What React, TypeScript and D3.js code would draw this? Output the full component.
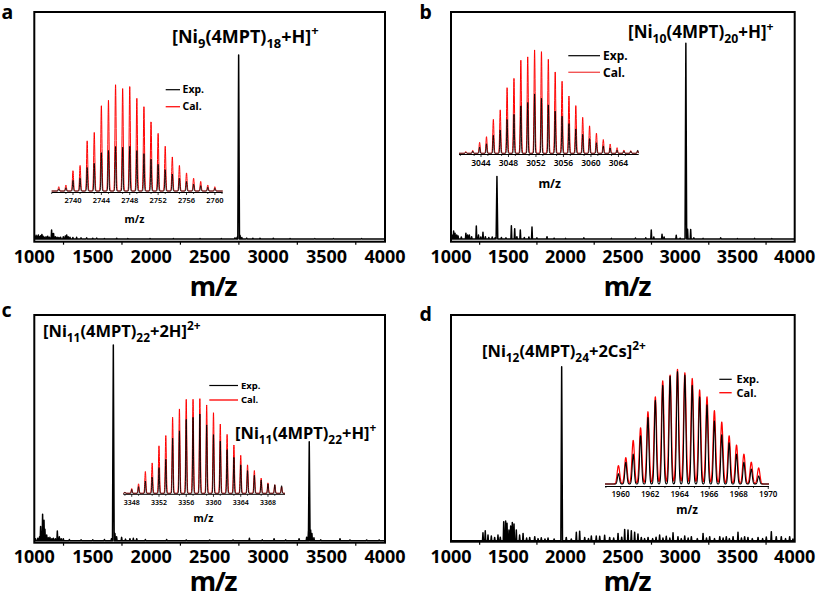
import React from "react";
import * as d3 from "d3";

const FONT = "'Noto Sans', 'Open Sans', sans-serif";

// ---------------- DATA ----------------
const mainTicks = [1000, 1500, 2000, 2500, 3000, 3500, 4000];
const mainMinorTicks = [1250, 1750, 2250, 2750, 3250, 3750];

// main spectra: [m/z, relative intensity]
const spectrumA: [number, number][] = [
  [1005, 0.012], [1015, 0.02], [1025, 0.015], [1035, 0.022], [1045, 0.012], [1055, 0.018],
  [1065, 0.025], [1075, 0.015], [1085, 0.01], [1100, 0.012], [1115, 0.015], [1130, 0.01],
  [1148, 0.049], [1155, 0.03], [1165, 0.03], [1180, 0.012], [1195, 0.01], [1210, 0.008],
  [1225, 0.01], [1248, 0.012], [1265, 0.016], [1277, 0.022], [1290, 0.012], [1305, 0.01],
  [1330, 0.008], [1362, 0.009], [1400, 0.006], [1448, 0.006], [1500, 0.004], [1534, 0.005],
  [1600, 0.003], [1705, 0.004], [1800, 0.003], [1990, 0.003], [2190, 0.003], [2418, 0.003],
  [2600, 0.003], [2717, 0.006], [2735, 0.01], [2748, 1.0], [2760, 0.02], [2775, 0.008],
  [2817, 0.005], [2870, 0.004], [2931, 0.004], [3045, 0.004], [3188, 0.003], [3400, 0.002],
  [3559, 0.002], [3800, 0.002],
];

const spectrumB: [number, number][] = [
  [1008, 0.02], [1023, 0.041], [1035, 0.03], [1050, 0.02], [1062, 0.015], [1090, 0.01],
  [1130, 0.03], [1145, 0.02], [1160, 0.02], [1180, 0.012], [1221, 0.066], [1240, 0.02],
  [1260, 0.01], [1279, 0.034], [1300, 0.012], [1330, 0.008], [1360, 0.01], [1385, 0.006],
  [1401, 0.32], [1440, 0.008], [1480, 0.006], [1527, 0.068], [1556, 0.053], [1575, 0.012],
  [1605, 0.046], [1640, 0.008], [1680, 0.01], [1707, 0.061], [1750, 0.006], [1838, 0.012],
  [1900, 0.004], [2000, 0.003], [2160, 0.006], [2400, 0.003], [2610, 0.005], [2700, 0.006],
  [2748, 0.046], [2770, 0.01], [2842, 0.024], [2860, 0.01], [2966, 0.019], [3000, 0.004],
  [3050, 1.0], [3065, 0.05], [3092, 0.049], [3120, 0.006], [3200, 0.003], [3354, 0.006],
  [3500, 0.002], [3650, 0.003], [3800, 0.002],
];

const spectrumC: [number, number][] = [
  [1010, 0.01], [1030, 0.012], [1045, 0.02], [1054, 0.072], [1063, 0.04], [1071, 0.135],
  [1077, 0.07], [1083, 0.105], [1091, 0.058], [1106, 0.029], [1120, 0.015], [1134, 0.017],
  [1150, 0.01], [1163, 0.012], [1180, 0.01], [1197, 0.049], [1214, 0.02], [1230, 0.01],
  [1248, 0.01], [1300, 0.006], [1400, 0.005], [1500, 0.005], [1600, 0.006], [1660, 0.01],
  [1676, 1.0], [1690, 0.037], [1704, 0.02], [1747, 0.017], [1780, 0.008], [1818, 0.01],
  [1847, 0.012], [1876, 0.01], [1950, 0.006], [2132, 0.006], [2300, 0.004], [2500, 0.004],
  [2700, 0.004], [2840, 0.012], [2950, 0.005], [3051, 0.01], [3150, 0.005], [3265, 0.01],
  [3330, 0.018], [3345, 0.05], [3352, 0.506], [3364, 0.055], [3375, 0.037], [3392, 0.015],
  [3450, 0.005], [3615, 0.01], [3700, 0.004], [3843, 0.004], [3950, 0.004],
];

const spectrumD: [number, number][] = [
  [1279, 0.046], [1299, 0.057], [1323, 0.033], [1352, 0.027], [1381, 0.019], [1410, 0.033],
  [1430, 0.02], [1460, 0.109], [1477, 0.113], [1489, 0.1], [1506, 0.061], [1521, 0.084],
  [1535, 0.105], [1550, 0.096], [1570, 0.061], [1599, 0.033], [1629, 0.042], [1660, 0.015],
  [1687, 0.019], [1731, 0.023], [1760, 0.012], [1788, 0.017], [1820, 0.01], [1847, 0.015],
  [1900, 0.01], [1966, 1.0], [2006, 0.019], [2050, 0.01], [2094, 0.048], [2123, 0.055],
  [2167, 0.019], [2200, 0.012], [2225, 0.027], [2268, 0.027], [2298, 0.025], [2341, 0.031],
  [2385, 0.019], [2420, 0.015], [2458, 0.042], [2490, 0.02], [2516, 0.065], [2545, 0.061],
  [2574, 0.057], [2603, 0.048], [2632, 0.038], [2661, 0.019], [2690, 0.012], [2720, 0.019],
  [2760, 0.012], [2790, 0.02], [2821, 0.033], [2850, 0.015], [2879, 0.025], [2910, 0.015],
  [2938, 0.046], [2981, 0.023], [3010, 0.012], [3040, 0.027], [3070, 0.015], [3098, 0.023],
  [3150, 0.012], [3200, 0.042], [3230, 0.015], [3258, 0.023], [3300, 0.012], [3346, 0.023],
  [3375, 0.015], [3403, 0.023], [3430, 0.012], [3462, 0.023], [3505, 0.048], [3535, 0.015],
  [3563, 0.023], [3592, 0.019], [3630, 0.012], [3680, 0.019], [3720, 0.012], [3752, 0.021],
  [3796, 0.052], [3839, 0.023], [3883, 0.023], [3920, 0.012], [3956, 0.023], [3985, 0.01],
];

// insets: isotope peak positions and intensities (calculated / experimental)
const insetAMz = [2738, 2739, 2740, 2741, 2742, 2743, 2744, 2745, 2746, 2747, 2748, 2749, 2750, 2751, 2752, 2753, 2754, 2755, 2756, 2757, 2758, 2759, 2760];
const insetACal = [0.04, 0.056, 0.19, 0.24, 0.47, 0.55, 0.8, 0.85, 1.0, 0.96, 0.98, 0.87, 0.79, 0.65, 0.54, 0.42, 0.32, 0.24, 0.17, 0.12, 0.09, 0.056, 0.04];
const insetAExp = [0.02, 0.03, 0.1, 0.12, 0.22, 0.26, 0.36, 0.38, 0.42, 0.41, 0.42, 0.38, 0.35, 0.3, 0.25, 0.2, 0.16, 0.12, 0.09, 0.065, 0.05, 0.035, 0.025];
const insetATicks = [2740, 2744, 2748, 2752, 2756, 2760];

const insetBMz = [3041.8, 3042.8, 3043.8, 3044.8, 3045.8, 3046.8, 3047.8, 3048.8, 3049.8, 3050.8, 3051.8, 3052.8, 3053.8, 3054.8, 3055.8, 3056.8, 3057.8, 3058.8, 3059.8, 3060.8, 3061.8, 3062.8, 3063.8, 3064.8, 3065.8, 3066.8];
const insetBCal = [0.016, 0.028, 0.104, 0.157, 0.32, 0.41, 0.62, 0.71, 0.88, 0.91, 0.975, 0.96, 0.89, 0.77, 0.68, 0.54, 0.45, 0.34, 0.26, 0.19, 0.13, 0.088, 0.053, 0.031, 0.025, 0.022];
const insetBExp = [0.01, 0.02, 0.06, 0.09, 0.17, 0.22, 0.32, 0.37, 0.45, 0.48, 0.56, 0.52, 0.46, 0.4, 0.35, 0.28, 0.23, 0.18, 0.14, 0.1, 0.07, 0.05, 0.03, 0.02, 0.02, 0.03];
const insetBTicks = [3044, 3048, 3052, 3056, 3060, 3064];

const insetCMz = [3347, 3348, 3349, 3350, 3351, 3352, 3353, 3354, 3355, 3356, 3357, 3358, 3359, 3360, 3361, 3362, 3363, 3364, 3365, 3366, 3367, 3368, 3369, 3370];
const insetCCal = [0.01, 0.05, 0.1, 0.23, 0.32, 0.5, 0.61, 0.8, 0.89, 0.99, 0.99, 1.0, 0.93, 0.85, 0.73, 0.62, 0.51, 0.4, 0.3, 0.24, 0.16, 0.11, 0.09, 0.07];
const insetCExp = [0.01, 0.04, 0.07, 0.13, 0.17, 0.27, 0.36, 0.58, 0.66, 0.78, 0.8, 0.84, 0.72, 0.62, 0.55, 0.46, 0.38, 0.3, 0.24, 0.19, 0.14, 0.1, 0.09, 0.08];
const insetCTicks = [3348, 3352, 3356, 3360, 3364, 3368];

const insetDMz = [1959.85, 1960.35, 1960.85, 1961.35, 1961.85, 1962.35, 1962.85, 1963.35, 1963.85, 1964.35, 1964.85, 1965.35, 1965.85, 1966.35, 1966.85, 1967.35, 1967.85, 1968.35, 1968.85, 1969.35];
const insetDCal = [0.16, 0.23, 0.38, 0.49, 0.63, 0.76, 0.9, 0.95, 1.0, 0.97, 0.92, 0.82, 0.76, 0.64, 0.54, 0.42, 0.34, 0.26, 0.19, 0.14];
const insetDExp = [0.09, 0.19, 0.26, 0.42, 0.58, 0.73, 0.86, 0.94, 0.98, 0.95, 0.86, 0.76, 0.69, 0.55, 0.43, 0.36, 0.26, 0.19, 0.13, 0.07];
const insetDTicks = [1960, 1962, 1964, 1966, 1968, 1970];

type Part = { t?: string; sub?: string; sup?: string };
const labelA: Part[] = [{ t: "[Ni" }, { sub: "9" }, { t: "(4MPT)" }, { sub: "18" }, { t: "+H]" }, { sup: "+" }];
const labelB: Part[] = [{ t: "[Ni" }, { sub: "10" }, { t: "(4MPT)" }, { sub: "20" }, { t: "+H]" }, { sup: "+" }];
const labelC1: Part[] = [{ t: "[Ni" }, { sub: "11" }, { t: "(4MPT)" }, { sub: "22" }, { t: "+2H]" }, { sup: "2+" }];
const labelC2: Part[] = [{ t: "[Ni" }, { sub: "11" }, { t: "(4MPT)" }, { sub: "22" }, { t: "+H]" }, { sup: "+" }];
const labelD: Part[] = [{ t: "[Ni" }, { sub: "12" }, { t: "(4MPT)" }, { sub: "24" }, { t: "+2Cs]" }, { sup: "2+" }];

// ---------------- LAYOUT ----------------
const panels = [
  { key: "a", x0: 34.3, x1: 385, y0: 12, y1: 241.7, base: 239, top: 55, tickY: 263.3, mzX: 213, mzY: 296, lx: 1.5, ly: 18.6, data: spectrumA },
  { key: "b", x0: 451, x1: 794.7, y0: 12, y1: 241.7, base: 239, top: 43.3, tickY: 263.3, mzX: 627, mzY: 296, lx: 419.5, ly: 18.6, data: spectrumB },
  { key: "c", x0: 34.3, x1: 385, y0: 315, y1: 542.7, base: 540.7, top: 345, tickY: 563.3, mzX: 213, mzY: 591, lx: 1.5, ly: 316.7, data: spectrumC },
  { key: "d", x0: 451, x1: 794.7, y0: 315, y1: 541.7, base: 540.7, top: 366.7, tickY: 563.3, mzX: 627, mzY: 591, lx: 419.5, ly: 320.5, data: spectrumD },
];

const labels = [
  { parts: labelA, x: 172, y: 43, size: 18 },
  { parts: labelB, x: 628, y: 38.3, size: 17 },
  { parts: labelC1, x: 43, y: 337, size: 16.5 },
  { parts: labelC2, x: 235, y: 439, size: 16.5 },
  { parts: labelD, x: 482, y: 356.7, size: 16.5 },
];

const insets = [
  { mz: insetAMz, cal: insetACal, exp: insetAExp, ticks: insetATicks, minorStep: 2,
    x0: 51.7, x1: 222.7, domain: [2737, 2761.1], base: 191, top: 84.3, axisY: 192.5,
    tickFont: 7.5, tickY: 203, mzX: 134.5, mzY: 222.5, mzFont: 10.5,
    leg: { x0: 165.7, x1: 180, y1: 89.7, y2: 106.7, tx: 182.5, font: 10.5, calColor: "#ff2020" },
    sCal: 0.08, sExp: 0.06, lw: 1 },
  { mz: insetBMz, cal: insetBCal, exp: insetBExp, ticks: insetBTicks, minorStep: 2,
    x0: 459, x1: 638.7, domain: [3040.8, 3066.95], base: 153.3, top: 47.3, axisY: 154.5,
    tickFont: 8.5, tickY: 166.3, mzX: 549.7, mzY: 188, mzFont: 12,
    leg: { x0: 568.3, x1: 600, y1: 55.7, y2: 72.3, tx: 603, font: 12, calColor: "#f25555" },
    sCal: 0.08, sExp: 0.06, lw: 1 },
  { mz: insetCMz, cal: insetCCal, exp: insetCExp, ticks: insetCTicks, minorStep: 2,
    x0: 123.3, x1: 285, domain: [3346.76, 3370.5], base: 493.3, top: 398.3, axisY: 494.3,
    tickFont: 7, tickY: 505.3, mzX: 203.5, mzY: 522.3, mzFont: 10.5,
    leg: { x0: 209.3, x1: 238, y1: 385.5, y2: 400, tx: 241, font: 9.5, calColor: "#ff1010" },
    sCal: 0.08, sExp: 0.06, lw: 1 },
  { mz: insetDMz, cal: insetDCal, exp: insetDExp, ticks: insetDTicks, minorStep: 1,
    x0: 605, x1: 769, domain: [1958.94, 1970.05], base: 484, top: 369.3, axisY: 486.5,
    tickFont: 8, tickY: 497.3, mzX: 687, mzY: 514, mzFont: 11.5,
    leg: { x0: 719.3, x1: 731.7, y1: 379.3, y2: 392.7, tx: 736.5, font: 11, calColor: "#ff1010" },
    sCal: 0.085, sExp: 0.065, lw: 1.2 },
];

// ---------------- HELPERS ----------------
function stickPoints(data: [number, number][], w: number): [number, number][] {
  const pts: [number, number][] = [[1000, 0]];
  const sorted = [...data].sort((a, b) => a[0] - b[0]);
  for (const [m, h] of sorted) {
    const ww = h > 0.2 ? w * 1.8 : w;
    pts.push([m - ww, 0], [m, h], [m + ww, 0]);
  }
  pts.push([4000, 0]);
  return pts;
}

function profile(mz: number[], hs: number[], sigma: number, domain: number[]): [number, number][] {
  const n = 1600;
  const pts: [number, number][] = [];
  for (let i = 0; i <= n; i++) {
    const x = domain[0] + ((domain[1] - domain[0]) * i) / n;
    let y = 0;
    for (let k = 0; k < mz.length; k++) {
      const d = (x - mz[k]) / sigma;
      if (Math.abs(d) < 6) y += hs[k] * Math.exp(-0.5 * d * d);
    }
    pts.push([x, y]);
  }
  return pts;
}

function Formula({ parts, x, y, size }: { parts: Part[]; x: number; y: number; size: number }) {
  let cur = 0;
  const spans = parts.map((p, i) => {
    const target = p.sub ? size * 0.3 : p.sup ? -size * 0.42 : 0;
    const dy = target - cur;
    cur = target;
    const fs = p.sub || p.sup ? size * 0.72 : size;
    return (
      <tspan key={i} dy={dy} fontSize={fs}>
        {p.sub || p.sup || p.t}
      </tspan>
    );
  });
  return (
    <text x={x} y={y} fontFamily={FONT} fontWeight={700} fontSize={size} fill="#000">
      {spans}
    </text>
  );
}

function MainPanel({ p }: { p: (typeof panels)[number] }) {
  const xs = d3.scaleLinear().domain([1000, 4000]).range([p.x0, p.x1]);
  const ys = d3.scaleLinear().domain([0, 1]).range([p.base, p.top]);
  const line = d3
    .line<[number, number]>()
    .x((d) => xs(d[0]))
    .y((d) => ys(d[1]));
  const pts = stickPoints(p.data, 4);
  const clipId = `clip-${p.key}`;
  return (
    <g>
      <clipPath id={clipId}>
        <rect x={p.x0} y={p.y0} width={p.x1 - p.x0} height={p.y1 - p.y0} />
      </clipPath>
      <path d={line(pts) || ""} fill="none" stroke="#000" strokeWidth={1.5} strokeLinejoin="round" clipPath={`url(#${clipId})`} />
      <rect x={p.x0} y={p.y0} width={p.x1 - p.x0} height={p.y1 - p.y0} fill="none" stroke="#000" strokeWidth={2} />
      {mainMinorTicks.map((t) => (
        <line key={t} x1={xs(t)} x2={xs(t)} y1={p.y1} y2={p.y1 + 3} stroke="#000" strokeWidth={1.2} />
      ))}
      {mainTicks.map((t) => (
        <text key={t} x={xs(t)} y={p.tickY} textAnchor="middle" fontFamily={FONT} fontWeight={700} fontSize={18}>
          {t}
        </text>
      ))}
      <text x={p.mzX} y={p.mzY} textAnchor="middle" fontFamily={FONT} fontWeight={700} fontSize={27} letterSpacing={-1.5}>
        m/z
      </text>
      <text x={p.lx} y={p.ly} fontFamily={FONT} fontWeight={700} fontSize={19.5}>
        {p.key}
      </text>
    </g>
  );
}

function Inset({ c }: { c: (typeof insets)[number] }) {
  const xs = d3.scaleLinear().domain(c.domain).range([c.x0, c.x1]);
  const ys = d3.scaleLinear().domain([0, 1]).range([c.base, c.top]);
  const line = d3
    .line<[number, number]>()
    .x((d) => xs(d[0]))
    .y((d) => ys(d[1]));
  const calPts = profile(c.mz, c.cal, c.sCal, c.domain);
  const expPts = profile(c.mz, c.exp, c.sExp, c.domain);
  const minor = d3.range(Math.ceil(c.domain[0]), c.domain[1], c.minorStep).filter((v) => c.ticks.indexOf(v) < 0);
  return (
    <g>
      <line x1={c.x0} x2={c.x1} y1={c.axisY} y2={c.axisY} stroke="#000" strokeWidth={1} />
      {c.ticks.map((t) => (
        <line key={"M" + t} x1={xs(t)} x2={xs(t)} y1={c.axisY} y2={c.axisY + 2.5} stroke="#000" strokeWidth={0.8} />
      ))}
      {minor.map((t) => (
        <line key={"m" + t} x1={xs(t)} x2={xs(t)} y1={c.axisY} y2={c.axisY + 1.5} stroke="#000" strokeWidth={0.7} />
      ))}
      <path d={line(calPts) || ""} fill="none" stroke="#ff0000" strokeWidth={c.lw} strokeLinejoin="round" />
      <path d={line(expPts) || ""} fill="none" stroke="#000" strokeWidth={c.lw * 0.9} strokeLinejoin="round" />
      {c.ticks.map((t) => (
        <text key={"t" + t} x={xs(t)} y={c.tickY} textAnchor="middle" fontFamily={FONT} fontWeight={600} fontSize={c.tickFont}>
          {t}
        </text>
      ))}
      <text x={c.mzX} y={c.mzY} textAnchor="middle" fontFamily={FONT} fontWeight={700} fontSize={c.mzFont}>
        m/z
      </text>
      <line x1={c.leg.x0} x2={c.leg.x1} y1={c.leg.y1} y2={c.leg.y1} stroke="#000" strokeWidth={1.2} />
      <line x1={c.leg.x0} x2={c.leg.x1} y1={c.leg.y2} y2={c.leg.y2} stroke={c.leg.calColor} strokeWidth={1.4} />
      <text x={c.leg.tx} y={c.leg.y1 + c.leg.font * 0.36} fontFamily={FONT} fontWeight={700} fontSize={c.leg.font}>
        Exp.
      </text>
      <text x={c.leg.tx} y={c.leg.y2 + c.leg.font * 0.36} fontFamily={FONT} fontWeight={700} fontSize={c.leg.font}>
        Cal.
      </text>
    </g>
  );
}

export default function App() {
  return (
    <svg width={816} height={598} viewBox="0 0 816 598" style={{ position: "absolute", left: 0, top: 0, background: "#fff" }}>
      <rect x={0} y={0} width={816} height={598} fill="#fff" />
      {panels.map((p) => (
        <MainPanel key={p.key} p={p} />
      ))}
      {insets.map((c, i) => (
        <Inset key={i} c={c} />
      ))}
      {labels.map((l, i) => (
        <Formula key={i} parts={l.parts} x={l.x} y={l.y} size={l.size} />
      ))}
    </svg>
  );
}
